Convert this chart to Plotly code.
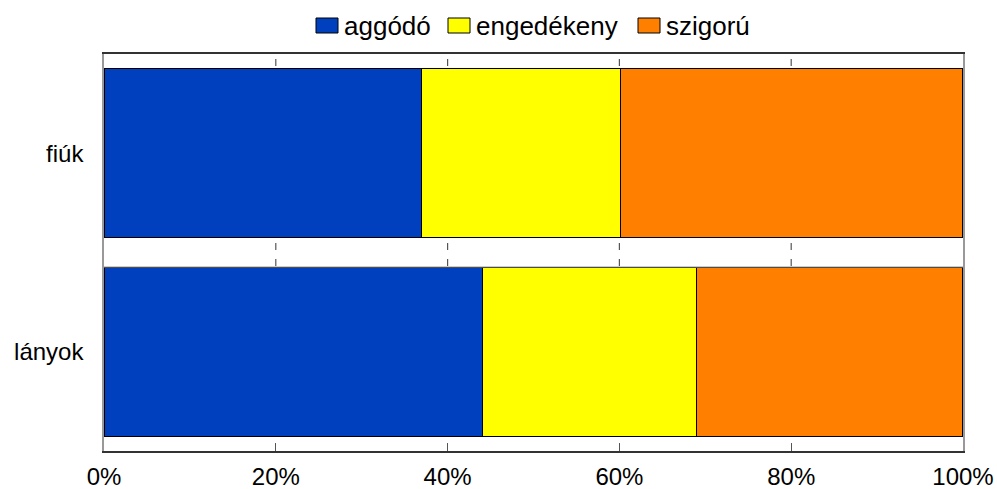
import plotly.graph_objects as go

categories = ["fiúk", "lányok"]
series_names = ["aggódó", "engedékeny", "szigorú"]
aggodo = [37.0, 44.1]
engedekeny = [23.1, 24.9]
szigoru = [39.9, 31.0]
colors = ["#0040BF", "#FFFF00", "#FF8000"]
tick_vals = [0, 20, 40, 60, 80, 100]
tick_text = ["0%", "20%", "40%", "60%", "80%", "100%"]

L, R, T, B = 104, 34, 54, 38
W, H = 997, 489
PW, PH = W - L - R, H - T - B


def px_x(px):
    return (px - L) / PW


def px_y(py):
    return (H - B - py) / PH


fig = go.Figure()
for name, vals, col in zip(series_names, [aggodo, engedekeny, szigoru], colors):
    fig.add_trace(go.Bar(
        y=categories, x=vals, name=name, orientation="h",
        marker=dict(color=col, line=dict(color="#000000", width=1.2)),
        width=0.85, showlegend=False,
    ))

tick_line = dict(color="#555555", width=1.2)
for v in tick_vals[1:-1]:
    # top ticks (detached from frame)
    fig.add_shape(type="line", xref="x", yref="paper", x0=v, x1=v,
                  y0=px_y(66), y1=px_y(59), line=tick_line)
    # ticks in the gap between the bars
    fig.add_shape(type="line", xref="x", yref="paper", x0=v, x1=v,
                  y0=px_y(250), y1=px_y(243), line=tick_line)
    fig.add_shape(type="line", xref="x", yref="paper", x0=v, x1=v,
                  y0=px_y(266), y1=px_y(259), line=tick_line)
fig.add_shape(type="line", xref="paper", yref="paper", x0=0, x1=1,
              y0=px_y(267), y1=px_y(267), line=dict(color="#999999", width=1))

# custom legend
legend_sq = [316, 448, 638]
for name, col, sx in zip(series_names, colors, legend_sq):
    fig.add_shape(type="rect", xref="paper", yref="paper",
                  x0=px_x(sx), x1=px_x(sx + 22), y0=px_y(33), y1=px_y(18),
                  fillcolor=col, line=dict(color="#000000", width=1))
    fig.add_annotation(x=px_x(sx + 26), y=px_y(26), xref="paper", yref="paper",
                       text=name, showarrow=False, xanchor="left", yanchor="middle",
                       font=dict(size=26, color="#000000"))

fig.update_layout(
    barmode="stack",
    width=W, height=H,
    margin=dict(l=L, r=R, t=T, b=B),
    paper_bgcolor="white", plot_bgcolor="white",
    font=dict(family="Liberation Sans, Arial, sans-serif", size=24, color="#000000"),
    showlegend=False,
)
fig.update_xaxes(
    range=[0, 100], tickvals=tick_vals, ticktext=tick_text,
    ticks="inside", ticklen=8, tickwidth=1.2, tickcolor="#555555",
    showline=True, linecolor="#333333", linewidth=1.5, mirror=True,
    showgrid=False, zeroline=False, ticklabelstandoff=3, automargin=False,
)
fig.update_yaxes(
    categoryorder="array", categoryarray=categories, autorange=False,
    range=[1.5, -0.5],
    ticks="", showline=True, linecolor="#999999", linewidth=1.5, mirror=True,
    showgrid=False, zeroline=False, ticklabelstandoff=14, automargin=False,
)

fig.write_html(
    "out.html",
    config={"displayModeBar": False},
    post_script="document.body.style.margin='0';document.body.style.overflow='hidden';",
)
